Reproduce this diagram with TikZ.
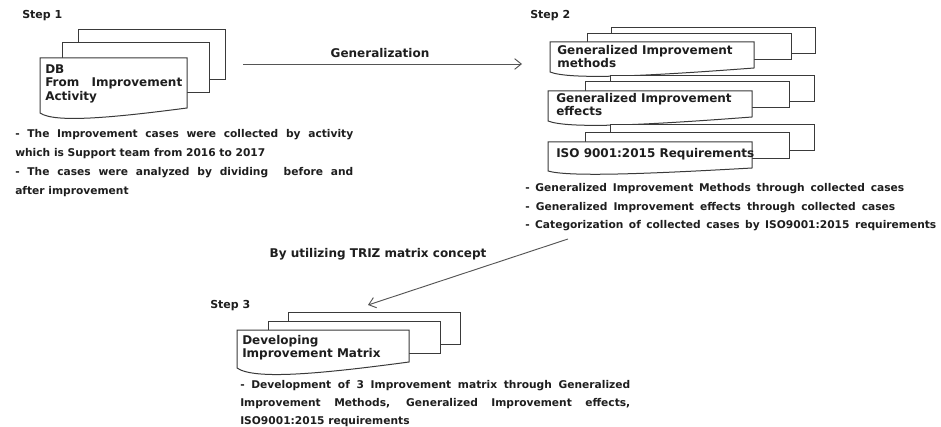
\documentclass[tikz,border=0pt]{standalone}
\usepackage{fontspec}
\setmainfont{DejaVu Sans}
\usetikzlibrary{arrows.meta}
\definecolor{ln}{HTML}{3A3A3A}
\definecolor{tx}{HTML}{1E1E1E}
\definecolor{ar}{HTML}{555555}
\newcommand\jline[2]{\hbox to #1{\spaceskip=0.28em plus 1fil\relax #2}}
\newcommand\docstack[9]{%
  \draw[pagebox] ({#1+#8},{#2+#9}) rectangle ++(#3,#4);
  \draw[pagebox] ({#1+#6},{#2+#7}) rectangle ++(#3,#4);
  \draw[pagebox] (#1,{#2+#4+#5}) -- (#1,#2) -- ({#1+#3},#2) -- ({#1+#3},{#2+#4})
     .. controls ({#1+0.48*#3},{#2+#4+2*#5}) and ({#1+0.1*#3},{#2+#4+3*#5}) .. (#1,{#2+#4+#5}) -- cycle;
}
\begin{document}
\begin{tikzpicture}[x=0.75pt,y=-0.75pt,
  pagebox/.style={draw=ln, fill=white, line width=0.75pt},
  steplabel/.style={font=\bfseries\fontsize{8.25}{10}\selectfont, text=tx, anchor=base west, inner sep=0pt},
  boxtext/.style={font=\bfseries\fontsize{9}{11}\selectfont, text=tx, anchor=base west, inner sep=0pt},
  bullet/.style={font=\bfseries\fontsize{8}{10}\selectfont, text=tx, anchor=base west, inner sep=0pt},
  arrlabel/.style={font=\bfseries\fontsize{9}{11}\selectfont, text=tx, inner sep=0pt},
  flowarrow/.style={draw=ar, line width=0.7pt, -{Straight Barb[length=5pt,width=8pt]}}]
\useasboundingbox[fill=white] (0,0) rectangle (941,427);

% ---------- Step 1 ----------
\node[steplabel] (s1) at (22,19) {Step 1};
\docstack{40}{58}{147}{50}{5}{22}{-15}{38}{-28}
\node[boxtext] (b1a) at (45,74) {DB};
\node[boxtext] (b1b) at (45,87) {\jline{102.75pt}{From Improvement}};
\node[boxtext] (b1c) at (45,101) {Activity};
\node[bullet] (t1a) at (15,138) {\jline{253.5pt}{- The Improvement cases were collected by activity}};
\node[bullet] (t1b) at (15,157) {which is Support team from 2016 to 2017};
\node[bullet] (t1c) at (15,176) {\jline{253.5pt}{- The cases were analyzed by dividing \ before and}};
\node[bullet] (t1d) at (15,195) {after improvement};

% ---------- Step 2 ----------
\node[steplabel] (s2) at (530,19) {Step 2};
\docstack{550}{42}{204}{26}{4}{37}{-8}{61}{-14}
\node[boxtext] (b2a) at (557,55) {Generalized Improvement};
\node[boxtext] (b2b) at (557,68) {methods};
\docstack{548}{91}{204}{26}{4}{37}{-9}{62}{-15}
\node[boxtext] (b2c) at (556,103) {Generalized Improvement};
\node[boxtext] (b2d) at (556,116) {effects};
\docstack{548}{142}{204}{26}{3}{37}{-9}{62}{-17}
\node[boxtext] (b2e) at (556,158) {ISO 9001:2015 Requirements};
\node[bullet] (t2a) at (525,192) {\jline{284.25pt}{- Generalized Improvement Methods through collected cases}};
\node[bullet] (t2b) at (525,211) {\jline{277.5pt}{- Generalized Improvement effects through collected cases}};
\node[bullet] (t2c) at (525,229) {\jline{308.25pt}{- Categorization of collected cases by ISO9001:2015 requirements}};

% ---------- Step 3 ----------
\node[steplabel] (s3) at (210,309) {Step 3};
\docstack{237}{330}{172}{32}{6}{31}{-9}{51}{-18}
\node[boxtext] (b3a) at (242,344) {Developing};
\node[boxtext] (b3b) at (242,357) {Improvement Matrix};
\node[bullet] (t3a) at (240,388) {\jline{292.5pt}{- Development of 3 Improvement matrix through Generalized}};
\node[bullet] (t3b) at (240,406) {\jline{292.5pt}{Improvement Methods, Generalized Improvement effects,}};
\node[bullet] (t3c) at (240,424) {ISO9001:2015 requirements};

% ---------- Arrows ----------
\coordinate (g1) at (243,64);
\coordinate (g2) at (522,64);
\draw[flowarrow] (g1) -- (g2);
\node[arrlabel] (glab) at (380,53) {Generalization};
\coordinate (r1) at (568,239);
\coordinate (r2) at (368,305);
\draw[flowarrow] (r1) -- (r2);
\node[arrlabel] (rlab) at (378,254) {By utilizing TRIZ matrix concept};
\end{tikzpicture}
\end{document}
